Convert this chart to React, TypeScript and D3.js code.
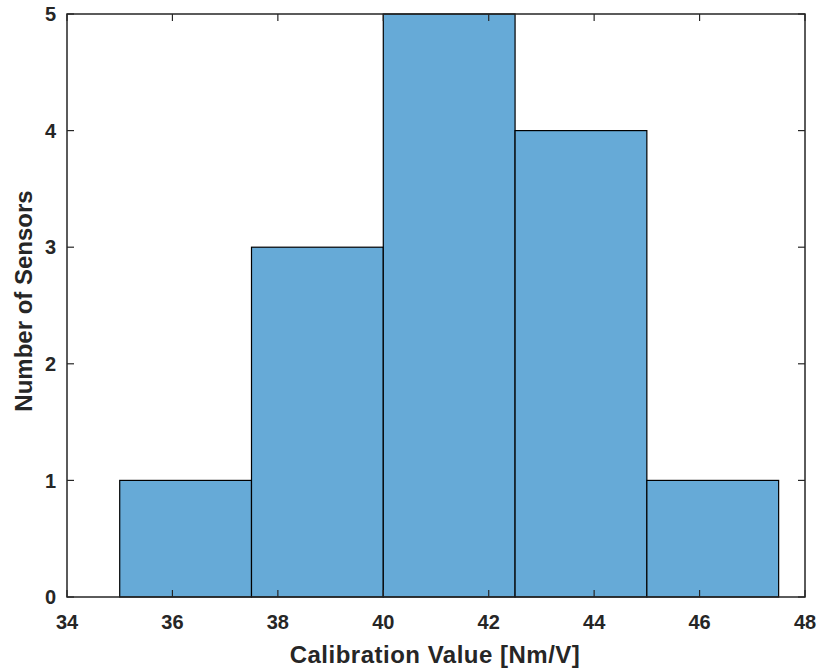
import React from "react";
import * as d3 from "d3";

const binEdges = [35, 37.5, 40, 42.5, 45, 47.5];
const counts = [1, 3, 5, 4, 1];
const xTicks = [34, 36, 38, 40, 42, 44, 46, 48];
const yTicks = [0, 1, 2, 3, 4, 5];
const xLabel = "Calibration Value [Nm/V]";
const yLabel = "Number of Sensors";

const W = 817;
const H = 669;
const left = 67, right = 805, top = 14, bottom = 597;
const axisColor = "#262626";
const font = "'Liberation Sans', Arial, Helvetica, sans-serif";

export default function App() {
  const x = d3.scaleLinear().domain([34, 48]).range([left, right]);
  const y = d3.scaleLinear().domain([0, 5]).range([bottom, top]);
  const tl = 7;
  return (
    <svg width={W} height={H} style={{ position: "absolute", left: 0, top: 0, background: "#fff" }}>
      {counts.map((c, i) => (
        <rect key={i} x={x(binEdges[i])} y={y(c)} width={x(binEdges[i + 1]) - x(binEdges[i])}
          height={y(0) - y(c)} fill="#66AAD7" stroke="#000" strokeWidth={1.2} />
      ))}
      <rect x={left} y={top} width={right - left} height={bottom - top} fill="none" stroke={axisColor} strokeWidth={1.5} />
      {xTicks.map((t) => (
        <g key={"x" + t}>
          <line x1={x(t)} x2={x(t)} y1={bottom} y2={bottom - tl} stroke={axisColor} strokeWidth={1.2} />
          <line x1={x(t)} x2={x(t)} y1={top} y2={top + tl} stroke={axisColor} strokeWidth={1.2} />
          <text x={x(t)} y={bottom + 32} textAnchor="middle" fontFamily={font} fontWeight="bold" fontSize={20} fill={axisColor}>{t}</text>
        </g>
      ))}
      {yTicks.map((t) => (
        <g key={"y" + t}>
          <line x1={left} x2={left + tl} y1={y(t)} y2={y(t)} stroke={axisColor} strokeWidth={1.2} />
          <line x1={right} x2={right - tl} y1={y(t)} y2={y(t)} stroke={axisColor} strokeWidth={1.2} />
          <text x={left - 11} y={y(t)} dy="0.36em" textAnchor="end" fontFamily={font} fontWeight="bold" fontSize={20} fill={axisColor}>{t}</text>
        </g>
      ))}
      <text x={435} y={663} textAnchor="middle" fontFamily={font} fontWeight="bold" fontSize={24} letterSpacing={0.5} fill={axisColor}>{xLabel}</text>
      <text transform={`translate(32,${301}) rotate(-90)`} textAnchor="middle" fontFamily={font} fontWeight="bold" fontSize={24} fill={axisColor}>{yLabel}</text>
    </svg>
  );
}
